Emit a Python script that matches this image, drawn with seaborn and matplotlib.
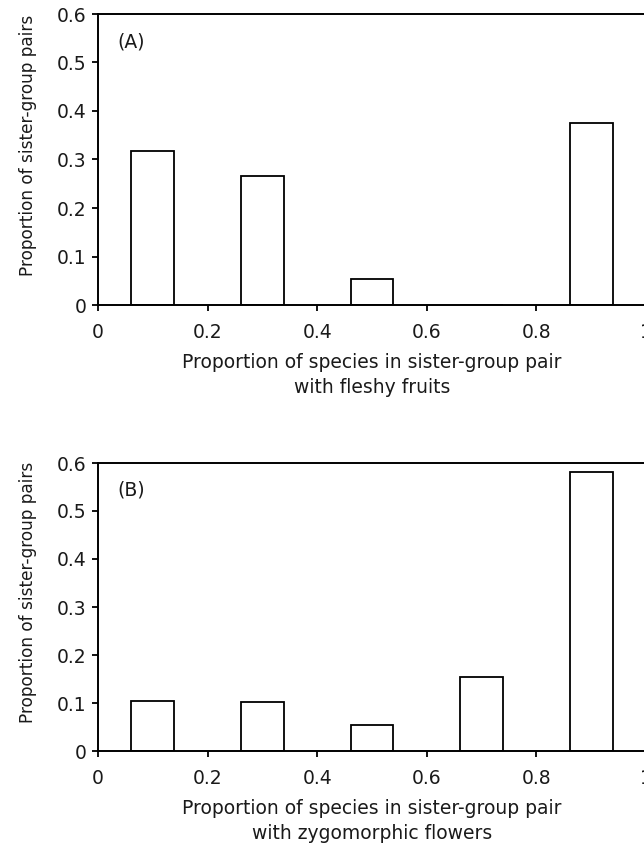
import pandas as pd
import matplotlib
matplotlib.use("Agg")
import matplotlib.pyplot as plt
import seaborn as sns

# bin centres (proportion of species in the pair with the trait)
bin_centres = [0.1, 0.3, 0.5, 0.7, 0.9]
fleshy_fruits = [0.317, 0.265, 0.053, 0.0, 0.376]
zygomorphic_flowers = [0.105, 0.102, 0.054, 0.155, 0.581]

panel_labels = ["(A)", "(B)"]
xlabels = ["Proportion of species in sister-group pair\nwith fleshy fruits",
           "Proportion of species in sister-group pair\nwith zygomorphic flowers"]
ylabel = "Proportion of sister-group pairs"
xticks = [0, 0.2, 0.4, 0.6, 0.8, 1.0]
xticklabels = ["0", "0.2", "0.4", "0.6", "0.8", "1"]
yticks = [0, 0.1, 0.2, 0.3, 0.4, 0.5, 0.6]
yticklabels = ["0", "0.1", "0.2", "0.3", "0.4", "0.5", "0.6"]

sns.set_theme(style="ticks")
plt.rcParams["font.family"] = ["DejaVu Sans"]

fig = plt.figure(figsize=(6.44, 8.47), dpi=100)
W, H = 644, 847
# axes boxes in pixels: left, top, right, bottom
boxes = [(98, 14, 646, 305), (98, 463, 646, 751)]
txt = "#1a1a1a"

for i, series in enumerate([fleshy_fruits, zygomorphic_flowers]):
    l, t, r, b = boxes[i]
    ax = fig.add_axes([l / W, 1 - b / H, (r - l) / W, (b - t) / H])
    df = pd.DataFrame({"x": bin_centres, "y": series})
    sns.barplot(data=df, x="x", y="y", native_scale=True, width=0.39,
                color="white", edgecolor="black", linewidth=1.3,
                saturation=1, ax=ax)
    ax.set_xlim(0, 1.0)
    ax.set_ylim(0, 0.6)
    ax.set_xticks(xticks)
    ax.set_xticklabels(xticklabels)
    ax.set_yticks(yticks)
    ax.set_yticklabels(yticklabels)
    ax.tick_params(axis="both", labelsize=13.5, length=4.5, width=1.3,
                   color="black", labelcolor=txt, direction="out")
    ax.tick_params(axis="x", pad=8.5)
    ax.tick_params(axis="y", pad=4)
    for side in ["left", "bottom", "top"]:
        ax.spines[side].set_visible(True)
        ax.spines[side].set_linewidth(1.4)
        ax.spines[side].set_color("black")
    ax.spines["right"].set_visible(False)
    ax.set_xlabel(xlabels[i], fontsize=13.5, color=txt, labelpad=8,
                  linespacing=1.4)
    ax.set_ylabel(ylabel, fontsize=12.2, color=txt)
    ax.yaxis.set_label_coords(-0.112, 0.55)
    ax.text(0.035, 0.905, panel_labels[i], transform=ax.transAxes,
            fontsize=13.5, color=txt, ha="left", va="center")

fig.savefig("out.png", dpi=100)
